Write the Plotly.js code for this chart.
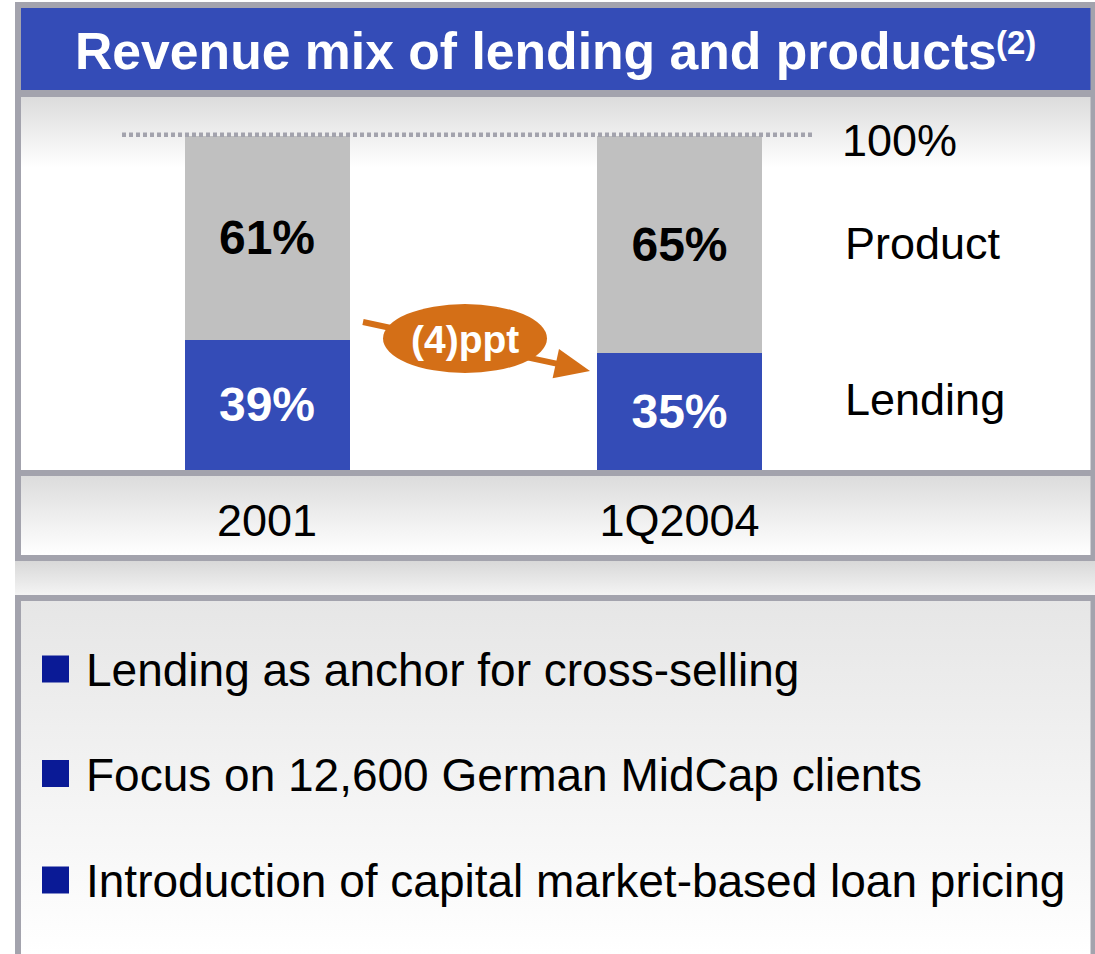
<!DOCTYPE html>
<html>
<head>
<meta charset="utf-8">
<script src="https://cdn.plot.ly/plotly-3.0.1.min.js"></script>
<style>
html,body{margin:0;padding:0;background:#fff;}
#chart{width:1095px;height:954px;}
</style>
</head>
<body>
<div id="chart"></div>
<script>
// ---- data ----
const categories = ['2001', '1Q2004'];
const seriesNames = ['Lending', 'Product'];
const lending = [39, 35];
const product = [61, 65];
const chartTitle = 'Revenue mix of lending and products';
const titleNote = '(2)';
const changeLabel = '(4)ppt';
const totalLabel = '100%';
const bullets = [
  'Lending as anchor for cross-selling',
  'Focus on 12,600 German MidCap clients',
  'Introduction of capital market-based loan pricing'
];

// ---- layout helpers ----
const W = 1095, H = 954;
const FONT = 'Liberation Sans, Arial, sans-serif';
const BORDER = '#a3a3ad';
const BLUE = '#344cb7';
const GRAY = '#c0c0c0';
const ORANGE = '#d46f17';
const NAVY = '#0a1a96';
function X(p){ return p / W; }
function Y(p){ return 1 - p / H; }

function gradImg(x0, y0, x1, y1, stops){
  let s = "<svg xmlns='http://www.w3.org/2000/svg' width='10' height='100' viewBox='0 0 10 100' preserveAspectRatio='none'>" +
    "<defs><linearGradient id='g' x1='0' y1='0' x2='0' y2='1'>";
  stops.forEach(st => { s += "<stop offset='" + st[0] + "' stop-color='" + st[1] + "'/>"; });
  s += "</linearGradient></defs><rect x='0' y='0' width='10' height='100' fill='url(#g)'/></svg>";
  return {
    source: 'data:image/svg+xml;charset=utf-8,' + encodeURIComponent(s),
    xref: 'paper', yref: 'paper',
    x: X(x0), y: Y(y0), sizex: X(x1) - X(x0), sizey: Y(y0) - Y(y1),
    xanchor: 'left', yanchor: 'top', sizing: 'stretch', layer: 'below'
  };
}

const images = [
  gradImg(21, 97, 1091, 470, [[0, '#dcdcdc'], [0.19, '#ffffff'], [1, '#ffffff']]),
  gradImg(21, 476, 1091, 555, [[0, '#dcdcdc'], [1, '#ffffff']]),
  gradImg(15, 561, 1095, 596, [[0, '#d8d8d8'], [1, '#f5f5f5']]),
  gradImg(21, 601, 1091, 954, [[0, '#e6e6e6'], [1, '#ffffff']])
];

const shapes = [
  // title bar
  {type: 'rect', xref: 'paper', yref: 'paper', x0: X(21), x1: X(1091), y0: Y(8), y1: Y(90), fillcolor: BLUE, line: {width: 0}, layer: 'below'},
  // top panel frame
  {type: 'rect', xref: 'paper', yref: 'paper', x0: X(18), x1: X(1093.5), y0: Y(5), y1: Y(558), line: {color: BORDER, width: 6}, layer: 'below'},
  {type: 'line', xref: 'paper', yref: 'paper', x0: X(18), x1: X(1093.5), y0: Y(93.5), y1: Y(93.5), line: {color: BORDER, width: 7}, layer: 'below'},
  {type: 'line', xref: 'paper', yref: 'paper', x0: X(18), x1: X(1093.5), y0: Y(473), y1: Y(473), line: {color: BORDER, width: 6}, layer: 'below'},
  // bottom panel frame
  {type: 'rect', xref: 'paper', yref: 'paper', x0: X(18), x1: X(1093.5), y0: Y(598), y1: Y(970), line: {color: BORDER, width: 6}, layer: 'below'},
  // 100% dotted reference line
  {type: 'line', xref: 'paper', yref: 'y', x0: X(122), x1: X(815), y0: 100.4, y1: 100.4, line: {color: BORDER, width: 4.5, dash: '4px,3px'}, layer: 'above'},
  // change arrow shaft
  {type: 'line', xref: 'paper', yref: 'paper', x0: X(363), y0: Y(322), x1: X(560), y1: Y(364.4), line: {color: ORANGE, width: 6}, layer: 'above'},
  // arrow head
  {type: 'path', xref: 'paper', yref: 'paper',
   path: 'M ' + X(590) + ' ' + Y(371) + ' L ' + X(552.6) + ' ' + Y(378.3) + ' L ' + X(559.0) + ' ' + Y(348.9) + ' Z',
   fillcolor: ORANGE, line: {width: 0}, layer: 'above'},
  // ellipse
  {type: 'circle', xref: 'paper', yref: 'paper', x0: X(383), x1: X(547), y0: Y(304), y1: Y(373), fillcolor: ORANGE, line: {width: 0}, layer: 'above'}
];

const bulletY = [669, 773.5, 880];
bulletY.forEach(yc => {
  shapes.push({type: 'rect', xref: 'paper', yref: 'paper', x0: X(42), x1: X(69), y0: Y(yc - 13.5), y1: Y(yc + 13.5), fillcolor: NAVY, line: {width: 0}, layer: 'above'});
});

const annotations = [
  {text: '<b>' + chartTitle + '</b>', xref: 'paper', yref: 'paper', x: X(535.5), y: Y(51), xanchor: 'center', yanchor: 'middle', showarrow: false, font: {family: FONT, size: 51.7, color: '#ffffff'}},
  {text: '<b>' + titleNote + '</b>', xref: 'paper', yref: 'paper', x: X(994), y: Y(43), xanchor: 'left', yanchor: 'middle', showarrow: false, font: {family: FONT, size: 33, color: '#ffffff'}},
  {text: '<b>' + changeLabel + '</b>', xref: 'paper', yref: 'paper', x: X(465), y: Y(339), xanchor: 'center', yanchor: 'middle', showarrow: false, font: {family: FONT, size: 39, color: '#ffffff'}},
  {text: totalLabel, xref: 'paper', yref: 'paper', x: X(840), y: Y(140), xanchor: 'left', yanchor: 'middle', showarrow: false, font: {family: FONT, size: 45, color: '#000000'}},
  {text: seriesNames[1], xref: 'paper', yref: 'paper', x: X(843), y: Y(243), xanchor: 'left', yanchor: 'middle', showarrow: false, font: {family: FONT, size: 45, color: '#000000'}},
  {text: seriesNames[0], xref: 'paper', yref: 'paper', x: X(843), y: Y(399), xanchor: 'left', yanchor: 'middle', showarrow: false, font: {family: FONT, size: 45, color: '#000000'}}
];
bullets.forEach((b, i) => {
  annotations.push({text: b, xref: 'paper', yref: 'paper', x: X(84), y: Y(bulletY[i] + 1), xanchor: 'left', yanchor: 'middle', showarrow: false, font: {family: FONT, size: 46, color: '#000000'}});
});

const traces = [
  {type: 'bar', name: seriesNames[0], x: categories, y: lending, width: 0.4,
   marker: {color: BLUE, line: {width: 0}},
   texttemplate: '%{y}%', textposition: 'inside', insidetextanchor: 'middle', textangle: 0,
   constraintext: 'none',
   textfont: {family: FONT, size: 48, color: '#ffffff', weight: 'bold'}, hoverinfo: 'skip'},
  {type: 'bar', name: seriesNames[1], x: categories, y: product, width: 0.4,
   marker: {color: GRAY, line: {width: 0}},
   texttemplate: '%{y}%', textposition: 'inside', insidetextanchor: 'middle', textangle: 0,
   constraintext: 'none',
   textfont: {family: FONT, size: 48, color: '#000000', weight: 'bold'}, hoverinfo: 'skip'}
];

// y range 0..102 so the 100% line is not clipped at the plot edge; 100 maps to pixel 136
const yTopPx = 470 - 334 * 1.02;

const layout = {
  width: W, height: H,
  margin: {l: 0, r: 0, t: 0, b: 0, pad: 0},
  paper_bgcolor: '#ffffff',
  plot_bgcolor: 'rgba(0,0,0,0)',
  barmode: 'stack',
  showlegend: false,
  hovermode: false,
  xaxis: {type: 'category', domain: [60.75 / W, 885.75 / W], range: [-0.5, 1.5],
          showgrid: false, zeroline: false, showline: false, ticks: '',
          ticklabelstandoff: 20,
          tickfont: {family: FONT, size: 45, color: '#000000'}, fixedrange: true},
  yaxis: {domain: [Y(470), Y(yTopPx)], range: [0, 102], showgrid: false, zeroline: false,
          showline: false, showticklabels: false, ticks: '', fixedrange: true},
  images: images,
  shapes: shapes,
  annotations: annotations
};

Plotly.newPlot('chart', traces, layout, {displayModeBar: false, staticPlot: true});
</script>
</body>
</html>
